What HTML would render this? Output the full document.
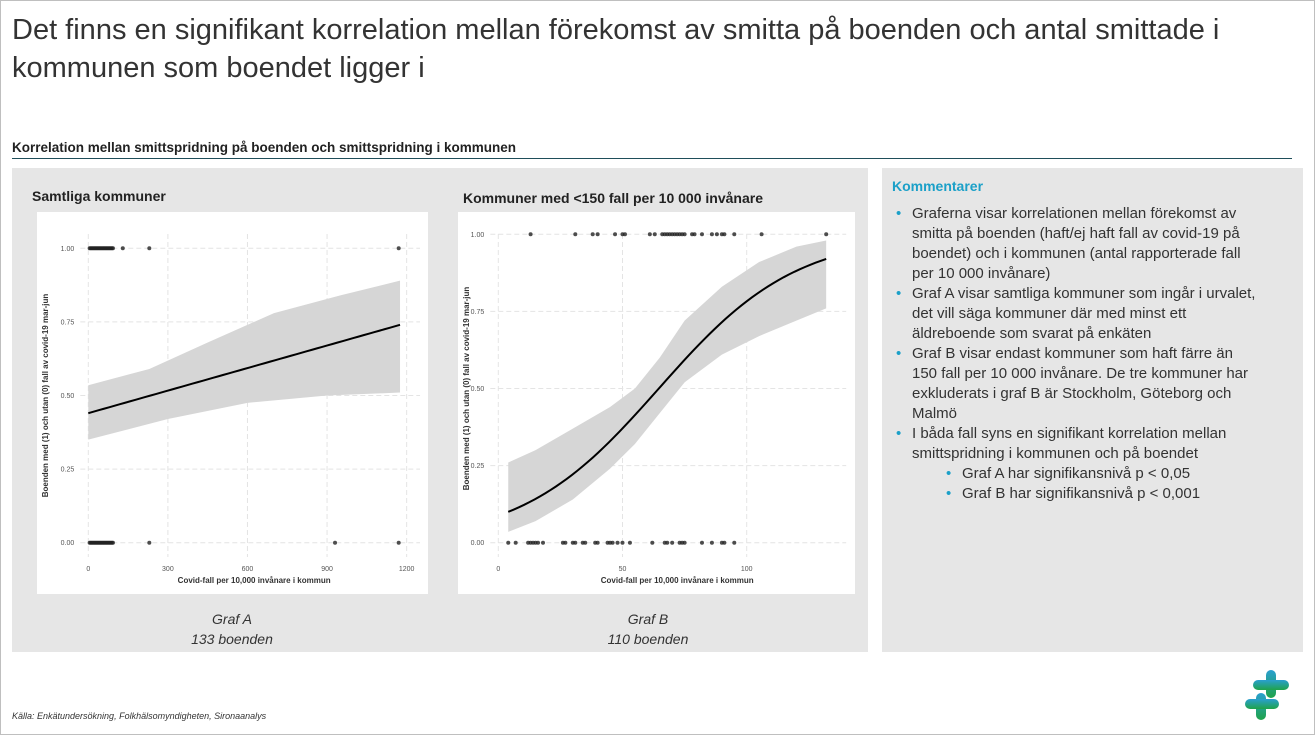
<!DOCTYPE html>
<html><head><meta charset="utf-8"><style>
body{margin:0;width:1315px;height:735px;background:#fff;font-family:"Liberation Sans",sans-serif;position:relative;overflow:hidden}
.b{position:absolute;left:0;top:0;width:1313px;height:733px;border:1px solid #bfbfbf}
h1{position:absolute;left:12px;top:11px;margin:0;font-weight:normal;font-size:29px;line-height:38px;color:#333;width:1295px}
.sub{position:absolute;left:12px;top:140px;font-size:13.5px;font-weight:bold;color:#222}
.rule{position:absolute;left:12px;top:158px;width:1280px;height:1px;background:#1f4e5a}
.gp{position:absolute;left:12px;top:168px;width:856px;height:484px;background:#e6e6e6}
.rp{position:absolute;left:882px;top:168px;width:421px;height:484px;background:#e6e6e6}
.ct{position:absolute;font-weight:bold;font-size:14px;color:#222}
.cap{position:absolute;font-style:italic;font-size:14px;color:#333;text-align:center;width:200px;line-height:20px}
.rp h3{margin:10px 0 0 10px;font-size:14px;color:#1ba0c8;font-weight:bold}
ul{margin:10px 0 0 0;padding-left:30px;font-size:15px;line-height:20px;color:#333;width:345px}
li{list-style:none;position:relative}
li:before{content:"•";color:#1ba0c8;position:absolute;left:-16px}
ul ul{margin:0;padding-left:50px;width:auto}
.src{position:absolute;left:12px;top:711px;font-size:9px;font-style:italic;color:#333}
svg text{font-family:"Liberation Sans",sans-serif}
</style></head><body>
<div class="b"></div>
<h1>Det finns en signifikant korrelation mellan förekomst av smitta på boenden och antal smittade i kommunen som boendet ligger i</h1>
<div class="sub">Korrelation mellan smittspridning på boenden och smittspridning i kommunen</div>
<div class="rule"></div>
<div class="gp"></div>
<div class="ct" style="left:32px;top:188px">Samtliga kommuner</div>
<div class="ct" style="left:463px;top:190px">Kommuner med &lt;150 fall per 10 000 invånare</div>
<svg id="sa" style="position:absolute;left:37px;top:212px" width="391" height="382"></svg>
<svg id="sb" style="position:absolute;left:458px;top:212px" width="397" height="382"></svg>
<div class="cap" style="left:132px;top:609px">Graf A<br>133 boenden</div>
<div class="cap" style="left:548px;top:609px">Graf B<br>110 boenden</div>
<div class="rp"><h3>Kommentarer</h3>
<ul>
<li>Graferna visar korrelationen mellan förekomst av smitta på boenden (haft/ej haft fall av covid-19 på boendet) och i kommunen (antal rapporterade fall per 10 000 invånare)</li>
<li>Graf A visar samtliga kommuner som ingår i urvalet, det vill säga kommuner där med minst ett äldreboende som svarat på enkäten</li>
<li>Graf B visar endast kommuner som haft färre än 150 fall per 10 000 invånare. De tre kommuner har exkluderats i graf B är Stockholm, Göteborg och Malmö</li>
<li>I båda fall syns en signifikant korrelation mellan smittspridning i kommunen och på boendet
<ul><li>Graf A har signifikansnivå p &lt; 0,05</li><li>Graf B har signifikansnivå p &lt; 0,001</li></ul></li>
</ul></div>
<div class="src">Källa: Enkätundersökning, Folkhälsomyndigheten, Sironaanalys</div>
<svg style="position:absolute;left:1243px;top:668px" width="50" height="54">
<defs><linearGradient id="g" x1="0" y1="0" x2="0" y2="1"><stop offset="0" stop-color="#2a9fd0"/><stop offset="1" stop-color="#1fa34a"/></linearGradient></defs>
<g fill="url(#g)"><rect x="23" y="2" width="10" height="28" rx="5"/><rect x="10" y="12" width="36" height="10" rx="5"/>
<rect x="13" y="25" width="10" height="27" rx="5"/><rect x="2" y="31" width="34" height="10" rx="5"/></g></svg>
<script>
function mk(id,ox,x0,sc,y1,y0,xt,xlab,curve,up,lo,d1,d0,xs){
 var s=document.getElementById(id),h='';
 function X(v){return x0+v*sc-ox}function Y(p){return y0+(y1-y0)*p-212}
 var L=X(xs[0])-12,R=X(xs[1])+12;
 h+='<rect width="100%" height="100%" fill="#fff"/>';
 xt.forEach(function(t){h+='<line x1="'+X(t)+'" x2="'+X(t)+'" y1="22" y2="345" stroke="#e4e4e4" stroke-dasharray="5,3"/>';
  h+='<text x="'+X(t)+'" y="359" font-size="7" fill="#555" text-anchor="middle">'+t+'</text>'});
 [0,0.25,0.5,0.75,1].forEach(function(p){h+='<line x1="'+(X(0)-8)+'" x2="'+(R+8)+'" y1="'+Y(p)+'" y2="'+Y(p)+'" stroke="#e4e4e4" stroke-dasharray="5,3"/>';
  h+='<text x="'+(X(0)-14)+'" y="'+(Y(p)+2.5)+'" font-size="7" fill="#555" text-anchor="end">'+p.toFixed(2)+'</text>'});
 var pts=[];up.forEach(function(q){pts.push(X(q[0])+','+Y(q[1]))});lo.slice().reverse().forEach(function(q){pts.push(X(q[0])+','+Y(q[1]))});
 h+='<polygon points="'+pts.join(' ')+'" fill="#d6d6d6"/>';
 var c=[];for(var i=0;i<=60;i++){var v=xs[0]+(xs[1]-xs[0])*i/60;c.push(X(v)+','+Y(curve(v)))}
 h+='<polyline points="'+c.join(' ')+'" fill="none" stroke="#000" stroke-width="2"/>';
 d1.forEach(function(v){h+='<circle cx="'+X(v)+'" cy="'+Y(1)+'" r="2" fill="#222" opacity=".8"/>'});
 d0.forEach(function(v){h+='<circle cx="'+X(v)+'" cy="'+Y(0)+'" r="2" fill="#222" opacity=".8"/>'});
 h+='<text x="'+((X(xs[0])+X(xs[1]))/2+10)+'" y="371" font-size="8" font-weight="bold" fill="#333" text-anchor="middle">Covid-fall per 10,000 invånare i kommun</text>';
 h+='<text transform="translate(11,'+(Y(0.5))+') rotate(-90)" font-size="8" font-weight="bold" fill="#333" text-anchor="middle">Boenden med (1) och utan (0) fall av covid-19 mar-jun</text>';
 s.innerHTML=h;
}
var A1=[],A0=[];for(var i=5;i<=95;i+=4){A1.push(i);A0.push(i)}A1.push(130,230,1170);A0.push(230,930,1170);
mk('sa',37,88.3,0.2653,248.3,542.7,[0,300,600,900,1200],'',
 function(v){return 0.44+0.3*v/1175},
 [[0,.535],[230,.59],[450,.68],[700,.78],[950,.84],[1175,.89]],
 [[0,.35],[300,.42],[600,.475],[900,.5],[1175,.51]],A1,A0,[0,1175]);
var B1=[13,31,38,40,47,50,51,61,63,66,67,68,69,70,71,72,73,74,75,78,79,82,86,88,90,91,95,106,132],
B0=[4,7,12,13,14,15,16,18,26,27,30,31,34,35,39,40,44,45,46,48,50,53,62,67,68,70,73,74,75,82,86,90,91,95];
mk('sb',458,498.3,2.484,234.3,542.7,[0,50,100],'',
 function(v){return 1/(1+Math.exp(-(-2.342+0.03624*v)))},
 [[4,.26],[15,.30],[30,.37],[45,.44],[55,.50],[65,.60],[75,.72],[90,.83],[105,.91],[120,.96],[132,.98]],
 [[4,.035],[15,.07],[30,.14],[45,.24],[55,.32],[65,.42],[75,.52],[90,.61],[105,.67],[120,.72],[132,.76]],B1,B0,[4,132]);
</script>
</body></html>
